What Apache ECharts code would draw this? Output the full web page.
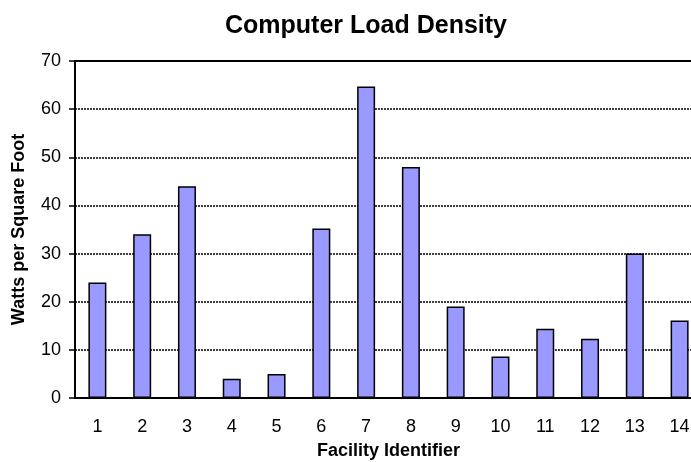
<!DOCTYPE html>
<html>
<head>
<meta charset="utf-8">
<script src="https://cdn.jsdelivr.net/npm/echarts@6/dist/echarts.min.js"></script>
<style>
  html, body { margin: 0; padding: 0; background: #fff; overflow: hidden; }
  #chart { width: 691px; height: 462px; }
</style>
</head>
<body>
<div id="chart"></div>
<script>
// facility ids on the x axis
const facilities = ['1', '2', '3', '4', '5', '6', '7', '8', '9', '10', '11', '12', '13', '14'];
// watts per square foot
const loadDensity = [24, 34, 44, 4, 5, 35.2, 64.7, 48, 19, 8.6, 14.4, 12.3, 30, 16.1];
const yTicks = [0, 10, 20, 30, 40, 50, 60, 70];

const font = 'Liberation Sans, Arial, sans-serif';

const chart = echarts.init(document.getElementById('chart'));
chart.setOption({
  backgroundColor: '#fff',
  animation: false,
  title: {
    text: 'Computer Load Density',
    left: 361,
    top: 9,
    textAlign: 'center',
    textStyle: { fontFamily: font, fontSize: 25, fontWeight: 'bold', color: '#000' }
  },
  grid: { left: 75, right: -11, top: 61, bottom: 64, containLabel: false, outerBoundsMode: 'none' },
  xAxis: [{
    type: 'category',
    data: facilities,
    name: 'Facility Identifier',
    nameLocation: 'middle',
    nameGap: 44,
    nameTextStyle: { fontFamily: font, fontSize: 18, fontWeight: 'bold', color: '#000' },
    axisLine: { lineStyle: { color: '#000', width: 2 } },
    axisTick: { show: false },
    axisLabel: { fontFamily: font, fontSize: 18, color: '#000', margin: 20 }
  }, {
    // solid top edge at 70
    type: 'category',
    data: facilities,
    position: 'top',
    axisLine: { lineStyle: { color: '#000', width: 2 } },
    axisTick: { show: false },
    axisLabel: { show: false }
  }],
  yAxis: {
    type: 'value',
    min: yTicks[0],
    max: yTicks[yTicks.length - 1],
    interval: 10,
    name: 'Watts per Square Foot',
    nameLocation: 'middle',
    nameGap: 47,
    nameTextStyle: { fontFamily: font, fontSize: 18, fontWeight: 'bold', color: '#000' },
    axisLine: { show: true, lineStyle: { color: '#000', width: 2 } },
    axisTick: { show: true, length: 6, lineStyle: { color: '#000', width: 1.5 } },
    axisLabel: { fontFamily: font, fontSize: 18, color: '#000', margin: 14 },
    splitLine: { show: true, lineStyle: { color: '#000', width: 1.5, type: [2, 1] } }
  },
  series: [{
    type: 'bar',
    data: loadDensity,
    barWidth: 18,
    itemStyle: { color: '#9999ff', borderColor: '#000', borderWidth: 1.5 }
  }]
});
</script>
</body>
</html>
